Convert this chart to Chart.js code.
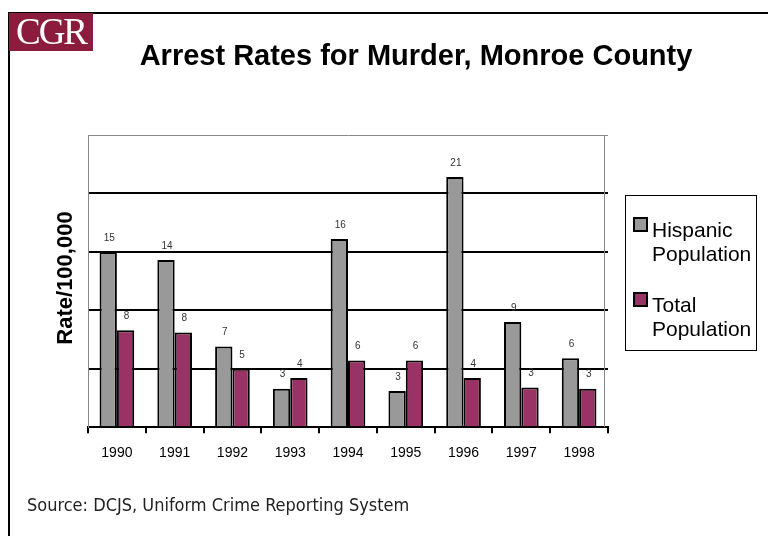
<!DOCTYPE html>
<html>
<head>
<meta charset="utf-8">
<script src="https://cdn.jsdelivr.net/npm/chart.js@4.4.0/dist/chart.umd.min.js"></script>
<style>
    body { margin: 0; background: #fff; }
    #wrap { position: relative; width: 768px; height: 536px; overflow: hidden; background: #fff; }
    #frame { position: absolute; left: 8px; top: 12px; width: 770px; height: 540px; border-top: 2px solid #000; border-left: 2px solid #000; }
    #logo { position: absolute; left: 9px; top: 13px; width: 84px; height: 38px; background: #8c1c3e; color: #fff;
            font: 37px "Liberation Serif", "Times New Roman", serif; line-height: 38px; text-align: center; letter-spacing: -2px; }
    #title { position: absolute; left: 0; width: 832px; top: 39px; text-align: center;
             font: bold 29px "Liberation Sans", Arial, sans-serif; color: #000; }
    #ytitle { position: absolute; left: 65px; top: 278px; transform: translate(-50%, -50%) rotate(-90deg);
              font: bold 22px "Liberation Sans", Arial, sans-serif; white-space: nowrap; }
    #legend { position: absolute; left: 625px; top: 195px; width: 130px; height: 154px; border: 1px solid #000;
              font: 21px "Liberation Sans", Arial, sans-serif; color: #000; }
    .item { position: absolute; left: 7px; padding-left: 19px; line-height: 24px; }
    .sw { position: absolute; left: 0; top: -1px; width: 11px; height: 11px; border: 2px solid #000; }
    #source { position: absolute; left: 27px; top: 494px; font: 18px "DejaVu Sans Condensed", sans-serif; color: #222; }
    canvas { position: absolute; left: 0; top: 0; }
</style>
</head>
<body>
<div id="wrap">
    <canvas id="chart" width="768" height="536"></canvas>
    <div id="frame"></div>
    <div id="logo">CGR</div>
    <div id="title">Arrest Rates for Murder, Monroe County</div>
    <div id="ytitle">Rate/100,000</div>
    <div id="legend"></div>
    <div id="source">Source: DCJS, Uniform Crime Reporting System</div>
</div>
<script>
const years = ['1990', '1991', '1992', '1993', '1994', '1995', '1996', '1997', '1998'];
const hispanic = [15.0, 14.3, 6.9, 3.3, 16.1, 3.1, 21.4, 9.0, 5.9];
const total = [8.3, 8.1, 5.0, 4.2, 5.7, 5.7, 4.2, 3.4, 3.3];
const seriesNames = [['Hispanic', 'Population'], ['Total', 'Population']];
const seriesColors = ['#999999', '#993366'];

// value labels above each bar, plus the grey right edge of the plot
const barLabels = {
    id: 'barLabels',
    afterDatasetsDraw(chart) {
        const ctx = chart.ctx;
        ctx.save();
        ctx.font = '10px "Liberation Sans", Arial, sans-serif';
        ctx.fillStyle = '#333';
        ctx.textAlign = 'center';
        ctx.textBaseline = 'middle';
        chart.data.datasets.forEach((ds, i) => {
            chart.getDatasetMeta(i).data.forEach((bar, j) => {
                ctx.fillText(Math.round(ds.data[j]), bar.x + 1, bar.y - 14);
            });
        });
        ctx.restore();
    },
    afterDraw(chart) {
        const a = chart.chartArea;
        const ctx = chart.ctx;
        ctx.save();
        ctx.strokeStyle = '#888';
        ctx.lineWidth = 1;
        ctx.beginPath();
        ctx.moveTo(a.right - 3.5, a.top);
        ctx.lineTo(a.right - 3.5, a.bottom);
        ctx.stroke();
        ctx.restore();
    }
};

new Chart(document.getElementById('chart'), {
    type: 'bar',
    data: {
        labels: years,
        datasets: [
            { label: 'Hispanic Population', data: hispanic, backgroundColor: seriesColors[0], borderColor: '#000', borderWidth: 2 },
            { label: 'Total Population', data: total, backgroundColor: seriesColors[1], borderColor: '#000', borderWidth: 2 }
        ]
    },
    options: {
        responsive: false,
        devicePixelRatio: 1,
        animation: false,
        layout: { padding: { left: 88, top: 135, right: 160, bottom: 62 } },
        datasets: { bar: { categoryPercentage: 0.6, barPercentage: 1.0 } },
        plugins: { legend: { display: false }, tooltip: { enabled: false } },
        scales: {
            x: {
                grid: { drawOnChartArea: false, drawTicks: true, tickLength: 6, color: '#000', lineWidth: 2 },
                border: { color: '#000', width: 2 },
                ticks: { color: '#000', padding: 12, font: { family: '"Liberation Sans", Arial, sans-serif', size: 14 } }
            },
            y: {
                min: 0, max: 25,
                ticks: { display: false, stepSize: 5 },
                grid: {
                    drawTicks: false,
                    color: ctx => ctx.tick && ctx.tick.value === 25 ? '#888' : '#000',
                    lineWidth: ctx => ctx.tick && ctx.tick.value === 25 ? 1 : 2
                },
                border: { color: '#888', width: 1 }
            }
        }
    },
    plugins: [barLabels]
});

// legend
const legend = document.getElementById('legend');
legend.innerHTML = seriesNames.map((name, i) => `
    <div class="item" style="top:${22 + i * 75}px">
        <div class="sw" style="background:${seriesColors[i]}"></div>
        ${name.join('<br>')}
    </div>
`).join('');
</script>
</body>
</html>
